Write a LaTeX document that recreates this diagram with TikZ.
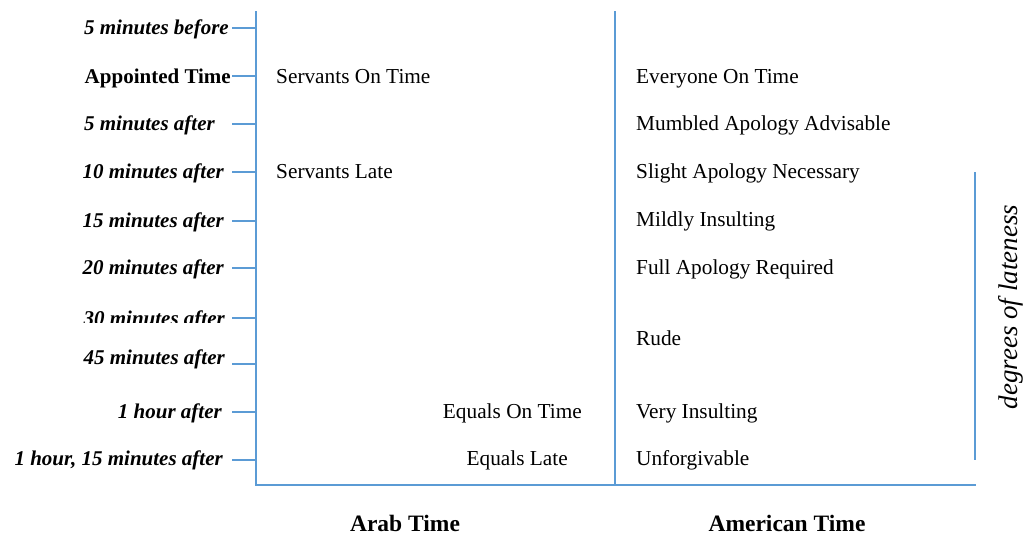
\documentclass[tikz,border=0pt]{standalone}
\usepackage{fontspec}
\setmainfont{Liberation Serif}
\definecolor{axisblue}{RGB}{91,155,213}
\begin{document}
\begin{tikzpicture}[x=1pt,y=-1pt,
  axis/.style={draw=axisblue,line width=1.2pt},
  ticklbl/.style={anchor=base east,inner sep=0pt,font=\fontsize{21}{24}\selectfont\bfseries\itshape},
  cell/.style={anchor=base west,inner sep=0pt,font=\fontsize{21.3}{24}\selectfont},
  cellr/.style={anchor=base east,inner sep=0pt,font=\fontsize{21.3}{24}\selectfont},
  foot/.style={anchor=base,inner sep=0pt,font=\fontsize{23.5}{27}\selectfont\bfseries}]
\useasboundingbox (0,0) rectangle (1029,536);
% axes
\coordinate (axTop) at (256,11);
\coordinate (axBot) at (256,485);
\coordinate (midTop) at (615,11);
\coordinate (midBot) at (615,485);
\coordinate (botEnd) at (976,485);
\coordinate (rTop) at (975,172);
\coordinate (rBot) at (975,460);
\draw[axis] (axTop) -- (axBot) -- (botEnd);
\draw[axis] (midTop) -- (midBot);
\draw[axis] (rTop) -- (rBot);
% ticks
\foreach \n/\y in {t1/28,t2/76,t3/124,t4/172,t5/221,t6/268,t7/318,t8/364,t9/412,t10/460}{
  \coordinate (\n a) at (232,\y);
  \coordinate (\n b) at (256,\y);
  \draw[axis] (\n a) -- (\n b);
}
% tick labels
\node[ticklbl] (l1) at (229,34) {5 minutes before};
\node[ticklbl,font=\fontsize{21}{24}\selectfont\bfseries] (l2) at (231,83) {Appointed Time};
\node[ticklbl] (l3) at (215,130) {5 minutes after};
\node[ticklbl] (l4) at (224,178) {10 minutes after};
\node[ticklbl] (l5) at (224,227) {15 minutes after};
\node[ticklbl] (l6) at (224,274) {20 minutes after};
\begin{scope}
\clip (0,290) rectangle (240,322);
\node[ticklbl] (l7) at (225,325) {30 minutes after};
\end{scope}
\node[ticklbl] (l8) at (225,364) {45 minutes after};
\node[ticklbl] (l9) at (222,418) {1 hour after};
\node[ticklbl] (l10) at (223,465) {1 hour, 15 minutes after};
% Arab column
\node[cell] (a1) at (276,83) {Servants On Time};
\node[cell] (a2) at (276,178) {Servants Late};
\node[cellr] (a3) at (582,418) {Equals On Time};
\node[cellr] (a4) at (568,465) {Equals Late};
% American column
\node[cell] (b1) at (636,83) {Everyone On Time};
\node[cell] (b2) at (636,130) {Mumbled Apology Advisable};
\node[cell] (b3) at (636,178) {Slight Apology Necessary};
\node[cell] (b4) at (636,226) {Mildly Insulting};
\node[cell] (b5) at (636,274) {Full Apology Required};
\node[cell] (b6) at (636,345) {Rude};
\node[cell] (b7) at (636,418) {Very Insulting};
\node[cell] (b8) at (636,465) {Unforgivable};
% side label
\node[rotate=90,inner sep=0pt,font=\fontsize{27}{30}\selectfont\itshape] (side) at (1011,307) {degrees of lateness};
% footers
\node[foot] (f1) at (405,531) {Arab Time};
\node[foot] (f2) at (787,531) {American Time};
\end{tikzpicture}
\end{document}
